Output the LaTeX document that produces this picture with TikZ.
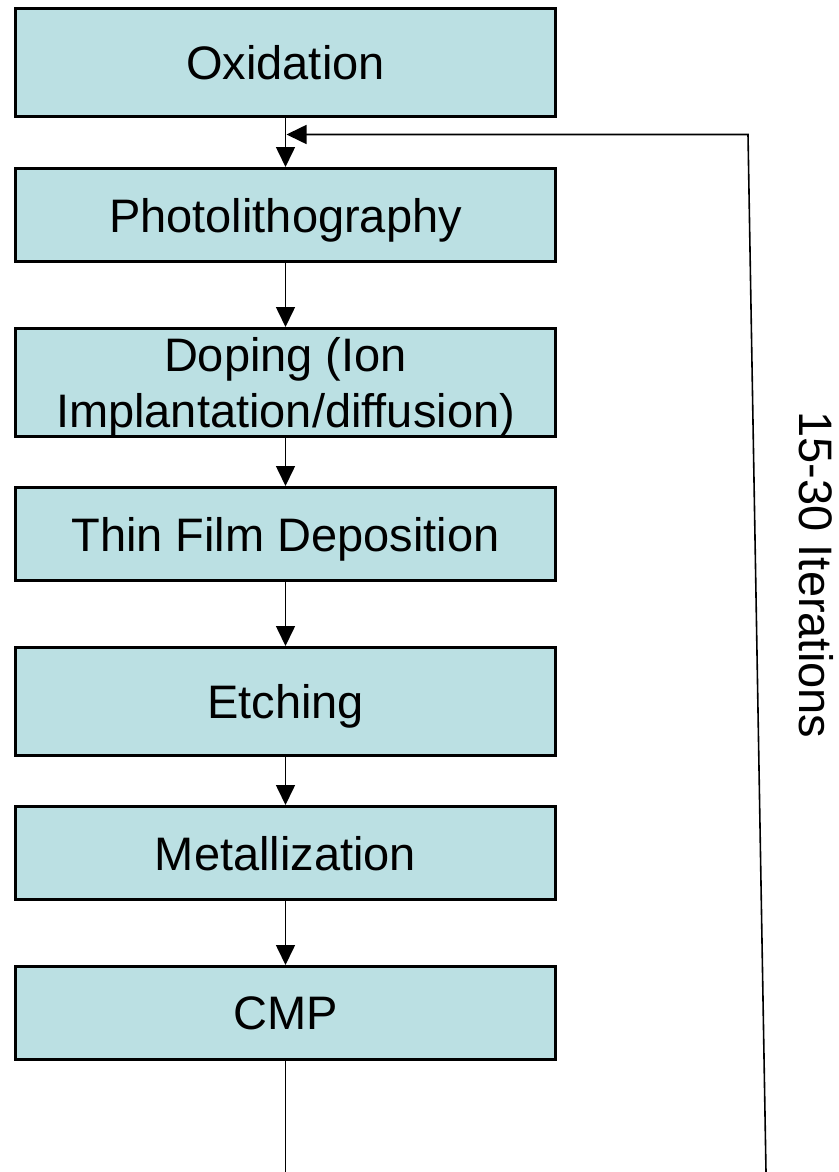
\documentclass[tikz,border=0pt]{standalone}
\usepackage{fontspec}
\setmainfont{Liberation Sans}
\usepackage{tikz}
\usetikzlibrary{arrows.meta, positioning}

\definecolor{stagefill}{RGB}{187,224,227}

\begin{document}
\begin{tikzpicture}[
  x=0.5pt, y=-0.5pt,
  stage/.style={draw, line width=1.4pt, fill=stagefill,
                minimum width=270.3pt, align=center, text depth=0pt,
                font=\fontsize{23.5}{28}\selectfont},
  tall/.style={stage, minimum height=54.1pt},
  short/.style={stage, minimum height=46.6pt},
  arrow/.style={-{Triangle[length=10pt, width=9.5pt]}, line width=0.8pt},
  link/.style={line width=0.8pt},
  loopnote/.style={rotate=-90, font=\fontsize{23.5}{28}\selectfont},
]
\useasboundingbox (0,0) rectangle (839,1172);

\node[tall]  (ox)    at (285.5,62.5)             {Oxidation};
\node[short, below=24.5pt of ox]    (photo) {Photolithography};
\node[tall,  below=32pt of photo]   (dope)  {Doping (Ion\\Implantation/diffusion)};
\node[short, below=24pt of dope]    (film)  {Thin Film Deposition};
\node[tall,  below=32pt of film]    (etch)  {Etching};
\node[short, below=24pt of etch]    (metal) {Metallization};
\node[short, below=32pt of metal]   (cmp)   {CMP};

\node[loopnote] (iter) at (816.5,575) {15-30 Iterations};

\coordinate (exit)   at (285.5,1172);
\coordinate (back)   at (766,1172);
\coordinate (corner) at (748,134.5);
\coordinate (merge)  at (286.5,134.5);

\draw[arrow] (ox) -- (photo);
\draw[arrow] (photo) -- (dope);
\draw[arrow] (dope) -- (film);
\draw[arrow] (film) -- (etch);
\draw[arrow] (etch) -- (metal);
\draw[arrow] (metal) -- (cmp);
\draw[link]  (cmp) -- (exit);
\draw[arrow] (back) -- (corner) -- (merge);
\end{tikzpicture}
\end{document}
